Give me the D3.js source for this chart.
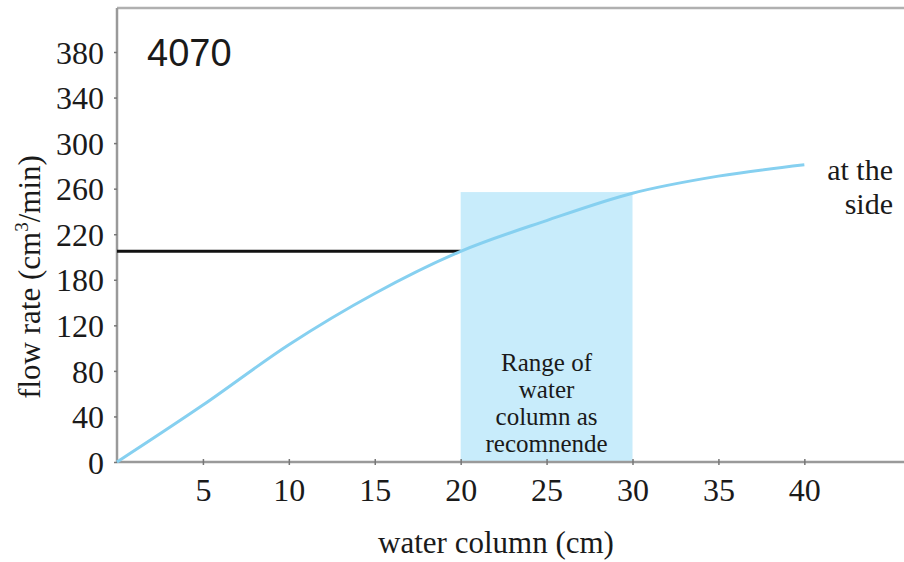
<!DOCTYPE html>
<html>
<head>
<meta charset="utf-8">
<script src="https://cdn.jsdelivr.net/npm/d3@7"></script>
<style>
  html, body { margin: 0; padding: 0; background: #fff; }
  svg { display: block; }
  text { font-family: "Liberation Serif", "Times New Roman", serif; fill: #1a1a1a; }
</style>
</head>
<body>
<svg id="chart" width="904" height="562"></svg>
<script>
// ---- data ----
const waterColumn = [0, 5, 10, 15, 20, 25, 30, 35, 40];          // cm
const flowRate    = [0, 50, 103, 162, 205, 232, 256, 271, 281];   // cm3/min
const xTicks = [5, 10, 15, 20, 25, 30, 35, 40];
const yTicks = [0, 40, 80, 120, 180, 220, 260, 300, 340, 380];
const referenceFlow = 205;          // horizontal black line value
const recommendedRange = [20, 30];  // cm
const recommendedTop = 257;         // flow value of shaded band top
const panelLabel = "4070";
const seriesLabel = ["at the", "side"];
const rangeLabel = ["Range of", "water", "column as", "recomnende"];

// ---- layout ----
const mLeft = 117, mTop = 8, mBottom = 462, mRight = 904;
const yStep = (mBottom - 52) / (yTicks.length - 1);

const svg = d3.select("#chart");

const x = d3.scaleLinear().domain([0, 45.8]).range([mLeft, mRight]);
// irregular tick labels are evenly spaced: piecewise linear scale
const y = d3.scaleLinear().domain(yTicks).range(yTicks.map((d, i) => mBottom - i * yStep));

// shaded recommended range
svg.append("rect")
  .attr("x", x(recommendedRange[0]))
  .attr("y", y(recommendedTop))
  .attr("width", x(recommendedRange[1]) - x(recommendedRange[0]))
  .attr("height", y(0) - y(recommendedTop))
  .attr("fill", "#c8ecfb");

// frame lines
const axisColor = "#9a9a9a";
svg.append("line").attr("x1", mLeft).attr("x2", mRight).attr("y1", mTop).attr("y2", mTop)
  .attr("stroke", "#b0b0b0").attr("stroke-width", 2.5);

// axes
const xAxis = d3.axisBottom(x).tickValues(xTicks).tickSize(3).tickFormat(d3.format("d"));
const gx = svg.append("g").attr("transform", `translate(0,${mBottom})`).call(xAxis);
gx.select(".domain").attr("stroke", axisColor).attr("stroke-width", 2.5)
  .attr("d", `M${mLeft},0H${mRight}`);
gx.selectAll(".tick line").attr("stroke", "#777").attr("y1", -3).attr("y2", 3).attr("stroke-width", 1.5);
gx.selectAll(".tick text").attr("font-size", 32).attr("y", 0).attr("dy", 39)
  .style("font-family", "Liberation Serif").attr("fill", "#1a1a1a");

const yAxis = d3.axisLeft(y).tickValues(yTicks).tickSize(3).tickFormat(d3.format("d"));
const gy = svg.append("g").attr("transform", `translate(${mLeft},0)`).call(yAxis);
gy.select(".domain").attr("stroke", axisColor).attr("stroke-width", 2.5)
  .attr("d", `M0,${mTop}V${mBottom}`);
gy.selectAll(".tick line").attr("stroke", "#777").attr("stroke-width", 1.5);
gy.selectAll(".tick text").attr("font-size", 32).attr("x", -13).attr("dy", "0.35em")
  .style("font-family", "Liberation Serif").attr("fill", "#1a1a1a");

// black reference line
svg.append("line")
  .attr("x1", x(0)).attr("x2", x(recommendedRange[0]))
  .attr("y1", y(referenceFlow)).attr("y2", y(referenceFlow))
  .attr("stroke", "#111").attr("stroke-width", 3);

// curve
const pts = waterColumn.map((d, i) => [d, flowRate[i]]);
svg.append("path")
  .datum(pts)
  .attr("fill", "none")
  .attr("stroke", "#86d0f0")
  .attr("stroke-width", 3)
  .attr("d", d3.line().x(d => x(d[0])).y(d => y(d[1])).curve(d3.curveMonotoneX));

// labels
svg.append("text").attr("x", 147).attr("y", 66)
  .style("font-family", "Liberation Sans").attr("font-size", 38).text(panelLabel);

seriesLabel.forEach((t, i) => {
  svg.append("text").attr("text-anchor", "end").attr("font-size", 30)
    .attr("x", 893).attr("y", 180 + i * 34).text(t);
});

svg.append("text").attr("text-anchor", "middle").attr("font-size", 25)
  .selectAll("tspan").data(rangeLabel).join("tspan")
  .attr("x", x(25)).attr("y", (d, i) => 371 + i * 27).text(d => d);

// axis titles
svg.append("text").attr("x", 496).attr("y", 553).attr("text-anchor", "middle")
  .attr("font-size", 31).text("water column (cm)");

const yt = svg.append("text").attr("transform", "translate(40,277) rotate(-90)")
  .attr("text-anchor", "middle").attr("font-size", 31);
yt.append("tspan").text("flow rate (cm");
yt.append("tspan").attr("font-size", 19).attr("dy", -12).text("3");
yt.append("tspan").attr("dy", 12).text("/min)");
</script>
</body>
</html>
